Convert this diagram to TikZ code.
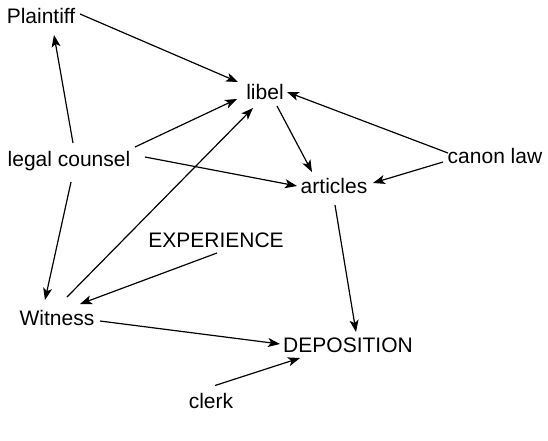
\documentclass[tikz,border=0pt]{standalone}
\usepackage{fontspec}
\setmainfont{Liberation Sans}
\usetikzlibrary{arrows.meta,calc}
\begin{document}
\begin{tikzpicture}[x=1pt,y=-1pt,
  lbl/.style={font=\fontsize{21}{25}\selectfont, anchor=base, inner sep=3pt, text height=15pt, text depth=4pt},
  conn/.style={line width=1.2pt, -{Stealth[length=12pt,width=9pt,inset=3pt]}}]
\useasboundingbox (0,0) rectangle (548,440);
\node[lbl] (plaintiff) at (41,23.5) {Plaintiff};
\node[lbl] (libel) at (265,99.5) {libel};
\node[lbl] (counsel) at (69,166.5) {legal counsel};
\node[lbl] (canon) at (495,163.5) {canon law};
\node[lbl] (articles) at (334,193.5) {articles};
\node[lbl] (experience) at (216,247.5) {EXPERIENCE};
\node[lbl] (witness) at (57,325.5) {Witness};
\node[lbl] (deposition) at (348,352.5) {DEPOSITION};
\node[lbl] (clerk) at (211,408) {clerk};
\draw[conn] ($(plaintiff)+(39,-4)$) -- ($(libel)+(-27,-12)$);
\draw[conn] ($(counsel)+(4,-18)$) -- ($(plaintiff)+(13,17)$);
\draw[conn] ($(counsel)+(66,-14)$) -- ($(libel)+(-28,5)$);
\draw[conn] ($(counsel)+(76,-4)$) -- ($(articles)+(-37,-2)$);
\draw[conn] ($(counsel)+(2,21)$) -- ($(witness)+(-12,-20)$);
\draw[conn] ($(canon)+(-47,-5)$) -- ($(libel)+(22,-2)$);
\draw[conn] ($(canon)+(-52,4)$) -- ($(articles)+(39,-5)$);
\draw[conn] ($(libel)+(12,12)$) -- ($(articles)+(-22,-16)$);
\draw[conn] ($(articles)+(1,17)$) -- ($(deposition)+(8,-15)$);
\draw[conn] ($(experience)+(1,11)$) -- ($(witness)+(23,-16)$);
\draw[conn] ($(witness)+(10,-23)$) -- ($(libel)+(-12,14)$);
\draw[conn] ($(witness)+(43,1)$) -- ($(deposition)+(-68,-3)$);
\draw[conn] ($(clerk)+(4,-17)$) -- ($(deposition)+(-48,11)$);
\end{tikzpicture}
\end{document}
